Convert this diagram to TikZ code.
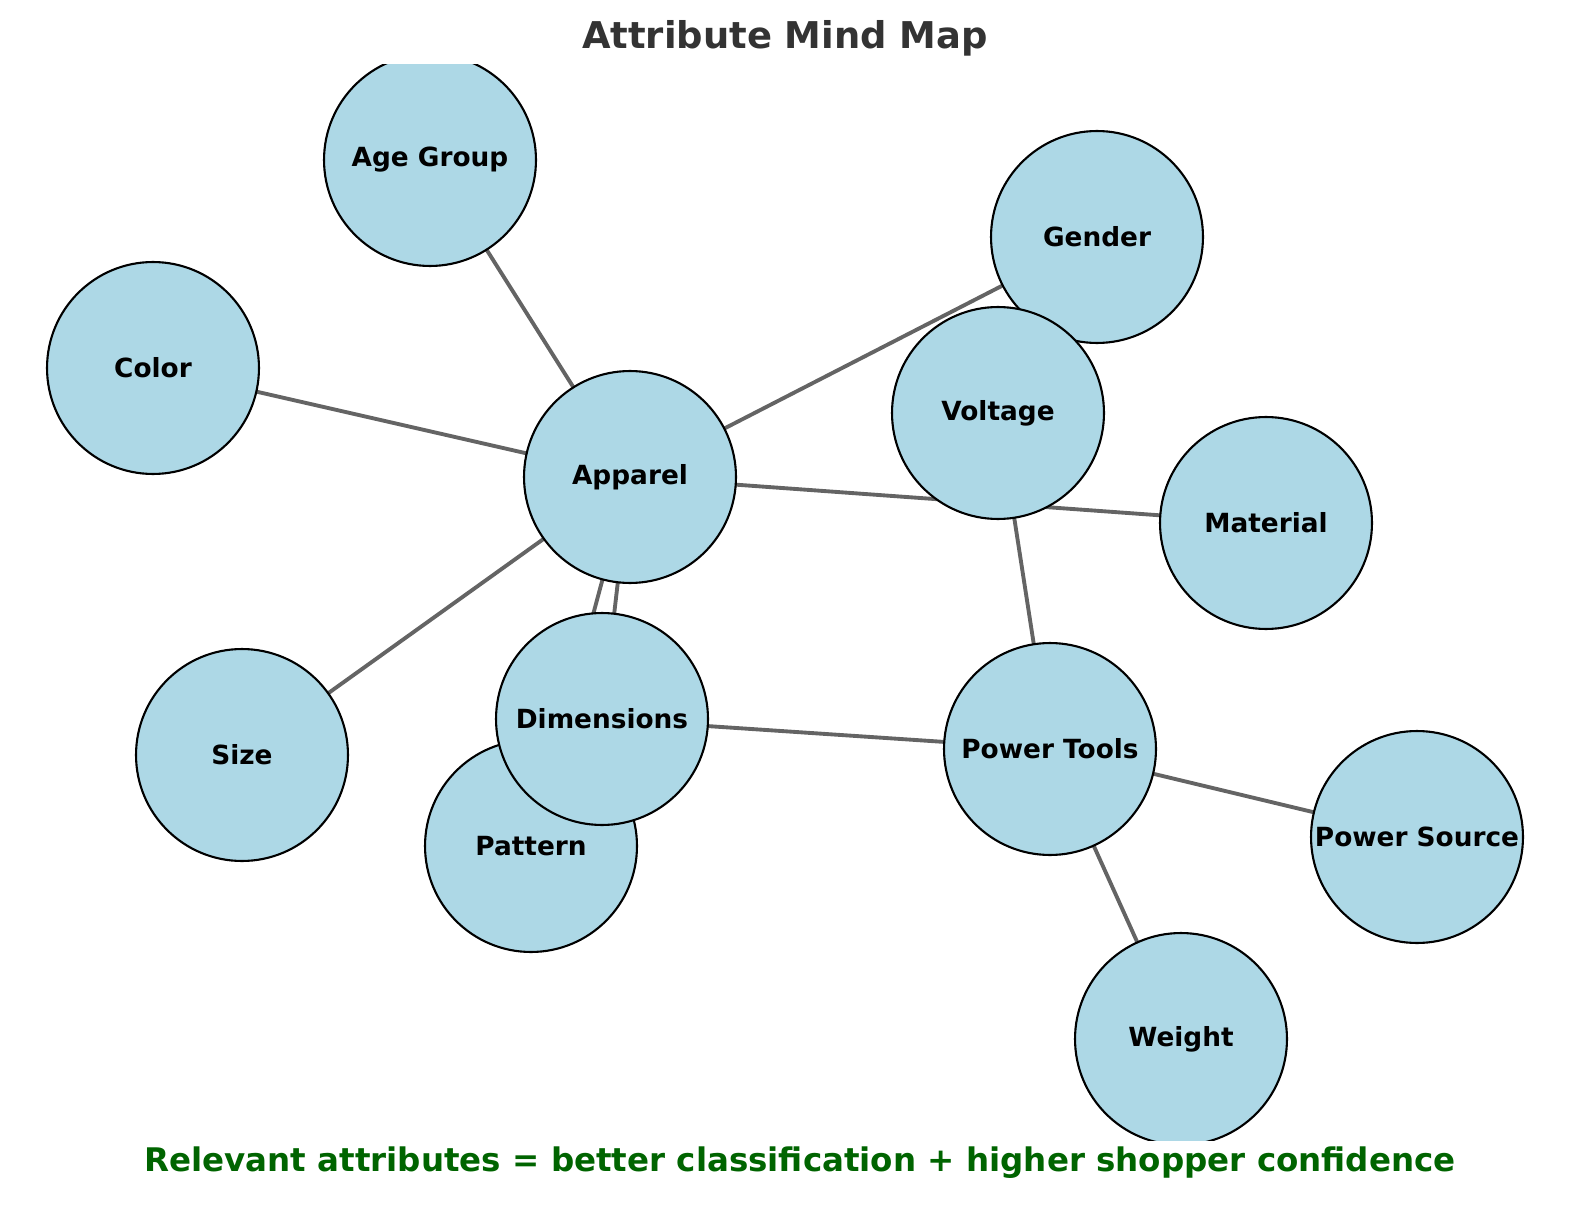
\documentclass[tikz,border=0pt]{standalone}
\usepackage{fontspec}
\setmainfont{DejaVu Sans}
\usetikzlibrary{backgrounds}
\definecolor{nodefill}{RGB}{173,216,230}
\definecolor{edgec}{RGB}{100,100,100}
\definecolor{titlec}{RGB}{51,51,51}
\definecolor{footc}{RGB}{0,100,0}
\begin{document}
\begin{tikzpicture}[x=0.02cm,y=-0.02cm,
  nd/.style={circle,draw=black,line width=1.2pt,fill=nodefill,minimum size=4.24cm,inner sep=0pt,font=\fontsize{15}{18}\selectfont\bfseries},
  ed/.style={draw=edgec,line width=2.2pt}]
\useasboundingbox (0,0) rectangle (1589,1216);
\node[font=\fontsize{21}{25}\selectfont\bfseries,text=titlec] (title) at (785,38) {Attribute Mind Map};
\node[font=\fontsize{18.5}{22}\selectfont\bfseries,text=footc] (foot) at (800,1163) {Relevant attributes = better classification + higher shopper confidence};
\begin{scope}
\clip (0,65) rectangle (1589,1140);
\node[nd] (ag) at (430,160) {Age Group};
\node[nd] (co) at (153,368) {Color};
\node[nd] (ge) at (1097,237) {Gender};
\node[nd] (vo) at (998,413) {Voltage};
\node[nd] (ap) at (630,477) {Apparel};
\node[nd] (ma) at (1266,523) {Material};
\node[nd] (si) at (242,755) {Size};
\node[nd] (pa) at (531,846) {Pattern};
\node[nd] (di) at (602,719) {Dimensions};
\node[nd] (pw) at (1050,749) {Power Tools};
\node[nd] (ps) at (1417,837) {Power Source};
\node[nd] (we) at (1181,1039) {Weight};
\begin{scope}[on background layer]
\draw[ed] (ap.center) -- (ag.center);
\draw[ed] (ap.center) -- (co.center);
\draw[ed] (ap.center) -- (ge.center);
\draw[ed] (ap.center) -- (ma.center);
\draw[ed] (ap.center) -- (si.center);
\draw[ed] (ap.center) -- (pa.center);
\draw[ed] (ap.center) -- (di.center);
\draw[ed] (pw.center) -- (vo.center);
\draw[ed] (pw.center) -- (di.center);
\draw[ed] (pw.center) -- (ps.center);
\draw[ed] (pw.center) -- (we.center);
\end{scope}
\end{scope}
\end{tikzpicture}
\end{document}
